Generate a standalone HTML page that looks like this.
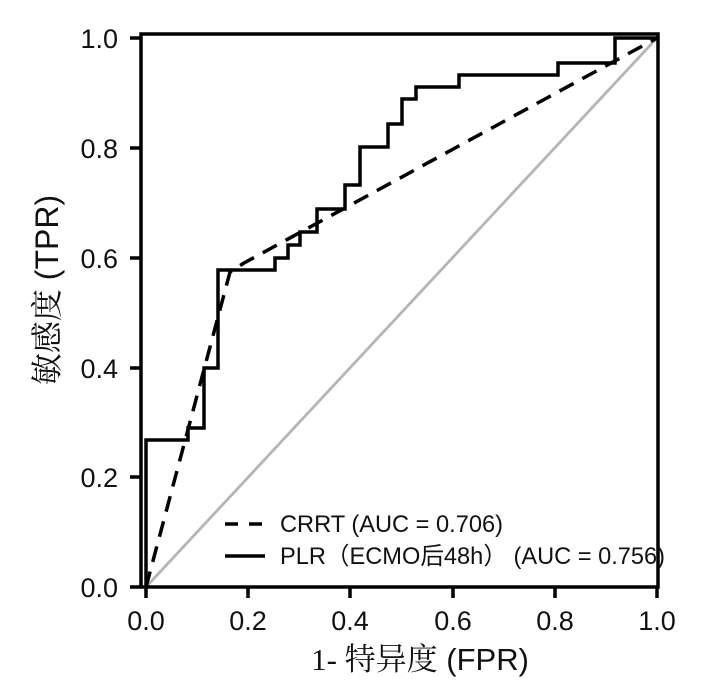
<!DOCTYPE html>
<html><head><meta charset="utf-8"><style>body{margin:0;background:#fff;}</style></head>
<body>
<svg width="710" height="695" xmlns="http://www.w3.org/2000/svg" font-family="Liberation Sans, Noto Sans CJK SC, sans-serif">
<rect width="710" height="695" fill="#fff"/>
<line x1="146" y1="587" x2="657" y2="38" stroke="#b5b5b5" stroke-width="2.8"/>
<polyline fill="none" stroke="#000" stroke-width="3.5" stroke-dasharray="16,10" points="146,587 230,272 244,263 657,38"/>
<polyline fill="none" stroke="#000" stroke-width="3.5" points="146,587 146,440 188,440 188,428 204,428 204,368 218,368 218,270 275,270 275,258 288,258 288,245 300,245 300,232 317,232 317,209 345,209 345,185 360,185 360,147 388,147 388,124 402,124 402,99 416,99 416,87 459,87 459,75 558,75 558,63 615,63 615,38 657,38"/>
<rect x="141" y="34" width="517" height="553" fill="none" stroke="#000" stroke-width="3.5"/>
<g stroke="#000" stroke-width="3.5">
<line x1="130" y1="38" x2="141" y2="38"/><line x1="130" y1="148" x2="141" y2="148"/><line x1="130" y1="258" x2="141" y2="258"/><line x1="130" y1="368" x2="141" y2="368"/><line x1="130" y1="477" x2="141" y2="477"/><line x1="130" y1="587" x2="141" y2="587"/>
<line x1="146" y1="587" x2="146" y2="598"/><line x1="248" y1="587" x2="248" y2="598"/><line x1="350" y1="587" x2="350" y2="598"/><line x1="453" y1="587" x2="453" y2="598"/><line x1="555" y1="587" x2="555" y2="598"/><line x1="657" y1="587" x2="657" y2="598"/>
</g>
<g font-size="27" text-anchor="end" fill="#111">
<text x="118" y="48">1.0</text><text x="118" y="158">0.8</text><text x="118" y="268">0.6</text><text x="118" y="378">0.4</text><text x="118" y="487">0.2</text><text x="118" y="597">0.0</text>
</g>
<g font-size="27" text-anchor="middle" fill="#111">
<text x="146" y="630">0.0</text><text x="248" y="630">0.2</text><text x="350" y="630">0.4</text><text x="453" y="630">0.6</text><text x="555" y="630">0.8</text><text x="657" y="630">1.0</text>
</g>
<line x1="225" y1="524" x2="265" y2="524" stroke="#000" stroke-width="3.5" stroke-dasharray="13,11"/>
<line x1="225" y1="556" x2="265" y2="556" stroke="#000" stroke-width="3.5"/>
<g font-size="24" fill="#111">
<text x="280" y="532" textLength="223" lengthAdjust="spacingAndGlyphs">CRRT (AUC = 0.706)</text>
<text x="280" y="564" textLength="385" lengthAdjust="spacingAndGlyphs">PLR（ECMO后48h） (AUC = 0.756)</text>
</g>
<text x="420" y="670" text-anchor="middle" font-size="31" fill="#111"><tspan font-family="Liberation Serif, Noto Serif CJK SC, serif">1- 特异度</tspan> (FPR)</text>
<text transform="translate(58,290) rotate(-90)" text-anchor="middle" font-size="32" fill="#111"><tspan font-family="Liberation Serif, Noto Serif CJK SC, serif">敏感度</tspan> (TPR)</text>
</svg>
</body></html>
